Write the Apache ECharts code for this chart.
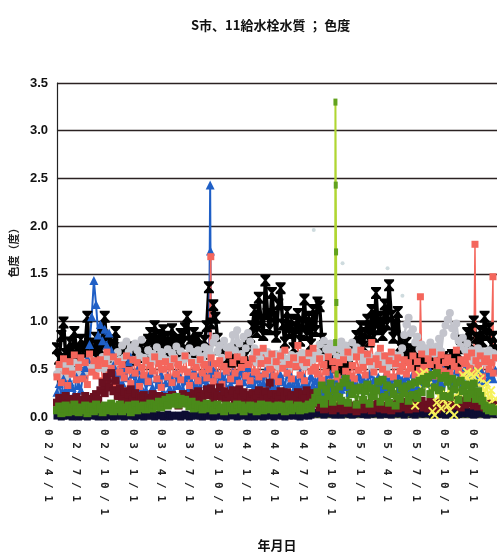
<!DOCTYPE html>
<html>
<head>
<meta charset="utf-8">
<script src="https://cdn.jsdelivr.net/npm/echarts@6/dist/echarts.min.js"></script>
<style>
  html, body { margin: 0; padding: 0; background: #fff; }
  #chart { width: 497px; height: 557px; }
</style>
</head>
<body>
<div id="chart"></div>
<script>
// Colour readings at 11 taps, one reading per week starting 2002-04-01.
const startDate = '2002-04-01';
const stepDays = 7;

// Quarter marks shown on the date axis
const tickDates = ['2002-04-01','2002-07-01','2002-10-01','2003-01-01','2003-04-01','2003-07-01',
  '2003-10-01','2004-01-01','2004-04-01','2004-07-01','2004-10-01','2005-01-01','2005-04-01',
  '2005-07-01','2005-10-01','2006-01-01'];
const tickLabels = ['02/4/1','02/7/1','02/10/1','03/1/1','03/4/1','03/7/1','03/10/1','04/1/1',
  '04/4/1','04/7/1','04/10/1','05/1/1','05/4/1','05/7/1','05/10/1','06/1/1'];
const yTicks = [0, 0.5, 1.0, 1.5, 2.0, 2.5, 3.0, 3.5];

const blackVals = [
  0.72,0.61,0.85,0.99,0.66,0.58,0.78,0.64,0.89,0.70,
  0.57,0.81,0.68,0.74,1.05,0.62,0.77,0.55,0.83,0.66,
  0.71,0.86,1.05,0.69,0.80,0.63,0.76,0.89,0.65,0.72,
  0.64,0.70,0.58,0.68,0.62,0.73,0.60,0.66,0.71,0.63,
  0.67,0.72,0.81,0.88,0.76,0.95,0.80,0.86,0.74,0.91,
  0.78,0.84,0.70,0.92,0.75,0.81,0.69,0.87,0.77,0.93,
  1.05,0.79,0.72,0.88,0.68,0.83,0.74,0.66,0.80,0.95,
  1.36,0.98,1.17,1.04,0.82,0.71,0.64,0.69,0.60,0.66,
  0.58,0.63,0.70,0.61,0.67,0.59,0.72,0.65,0.78,0.84,
  0.95,1.12,0.89,1.25,1.02,0.86,1.43,1.08,0.92,1.30,
  1.05,0.84,1.18,1.35,0.97,0.78,1.10,0.88,1.02,0.72,
  0.93,1.08,0.80,0.98,1.23,0.86,1.05,0.76,1.12,0.90,
  1.20,1.16,0.82,0.68,0.58,0.62,0.54,0.60,0.66,0.52,
  0.57,0.50,0.61,0.55,0.64,0.59,0.72,0.68,0.85,0.76,
  0.95,0.74,0.88,1.02,0.79,1.12,0.84,1.30,0.92,1.05,
  0.86,1.18,0.97,1.38,1.06,0.83,0.95,1.10,0.74,0.81,
  0.66,0.78,0.62,0.71,0.58,0.68,0.55,0.61,0.52,0.58,
  0.54,0.60,0.49,0.57,0.62,0.51,0.59,0.55,0.63,0.58,
  0.60,0.56,0.65,0.61,0.58,0.66,0.72,0.80,0.75,0.88,
  0.78,0.92,1.00,0.83,0.74,0.90,0.79,1.05,0.86,0.93,
  0.76,0.84,0.70];

const grayVals = [
  0.45,0.52,0.41,0.55,0.48,0.43,0.53,0.49,0.57,0.44,
  0.50,0.56,0.46,0.58,0.52,0.48,0.60,0.54,0.57,0.51,
  0.55,0.63,0.50,0.60,0.66,0.53,0.62,0.57,0.68,0.60,
  0.75,0.62,0.79,0.68,0.73,0.60,0.77,0.70,0.64,0.81,
  0.62,0.58,0.70,0.55,0.66,0.60,0.73,0.57,0.68,0.62,
  0.59,0.71,0.55,0.67,0.63,0.74,0.57,0.69,0.60,0.65,
  0.62,0.72,0.58,0.68,0.55,0.70,0.64,0.60,0.73,0.66,
  0.71,0.65,0.78,0.83,0.69,0.75,0.62,0.80,0.73,0.67,
  0.74,0.86,0.70,0.91,0.77,0.66,0.84,0.72,0.88,0.79,
  0.62,0.72,0.57,0.66,0.60,0.70,0.56,0.68,0.55,0.63,
  0.58,0.66,0.53,0.62,0.68,0.56,0.61,0.52,0.65,0.59,
  0.55,0.64,0.58,0.67,0.53,0.61,0.57,0.66,0.60,0.63,
  0.67,0.76,0.62,0.80,0.71,0.65,0.77,0.69,0.74,0.63,
  0.72,0.79,0.66,0.75,0.70,0.62,0.78,0.68,0.73,0.64,
  0.62,0.55,0.66,0.58,0.63,0.52,0.60,0.56,0.65,0.54,
  0.58,0.64,0.52,0.61,0.56,0.66,0.55,0.60,0.65,0.72,
  0.86,0.97,1.04,0.88,0.92,0.78,0.84,0.71,0.76,0.68,
  0.72,0.65,0.78,0.70,0.66,0.74,0.82,0.69,0.88,0.96,
  1.02,1.09,0.93,0.85,0.98,0.80,0.74,0.83,0.70,0.77,
  0.64,0.70,0.58,0.66,0.72,0.61,0.68,0.57,0.63,0.70,
  0.60,0.67,0.62];
// isolated high readings of the grey tap: [day from start, value]
const grayOutliers = [[828,1.96],[921,1.61],[1066,1.56],[1114,1.27]];

const salmonVals = [
  0.42,0.55,0.36,0.61,0.48,0.33,0.58,0.45,0.65,0.39,
  0.52,0.62,0.40,0.57,0.34,0.66,0.47,0.59,0.43,0.54,
  0.60,0.38,0.56,0.68,0.44,0.51,0.63,0.36,0.58,0.47,
  0.55,0.41,0.64,0.49,0.35,0.60,0.46,0.57,0.32,0.52,
  0.44,0.59,0.37,0.54,0.48,0.63,0.40,0.56,0.31,0.50,
  0.58,0.42,0.53,0.36,0.61,0.45,0.55,0.39,0.50,0.64,
  0.47,0.33,0.57,0.43,0.52,0.38,0.60,0.46,0.55,0.41,
  0.50,0.62,0.37,0.56,0.44,0.59,0.34,0.53,0.48,0.65,
  0.40,0.57,0.46,0.63,0.35,0.52,0.60,0.43,0.55,0.38,
  0.61,0.47,0.68,0.42,0.56,0.72,0.45,0.59,0.50,0.66,
  0.43,0.58,0.37,0.64,0.51,0.70,0.46,0.55,0.40,0.62,
  0.53,0.75,0.44,0.60,0.38,0.57,0.67,0.48,0.72,0.52,
  0.45,0.61,0.39,0.55,0.47,0.63,0.36,0.58,0.50,0.42,
  0.57,0.37,0.60,0.48,0.68,0.43,0.54,0.40,0.63,0.49,
  0.70,0.52,0.44,0.66,0.58,0.78,0.47,0.61,0.55,0.72,
  0.50,0.64,0.45,0.59,0.68,0.42,0.56,0.62,0.48,0.53,
  0.60,0.45,0.57,0.51,0.64,0.44,0.58,0.49,0.66,0.52,
  0.47,0.61,0.55,0.68,0.43,0.59,0.52,0.65,0.48,0.57,
  0.62,0.46,0.58,0.53,0.70,0.49,0.60,0.44,0.56,0.63,
  0.51,0.67,0.47,0.59,0.54,0.64,0.42,0.58,0.61,0.50,
  0.57,0.46,0.62];
const salmonSpikes = [[496,1.68],[1172,1.26],[1348,1.81],[1406,1.47]];

const blueVals = [
  0.26,0.35,0.21,0.40,0.29,0.23,0.37,0.31,0.24,0.42,
  0.33,0.28,0.45,0.52,0.61,0.76,1.05,1.43,1.18,0.86,
  0.97,0.80,0.92,0.75,0.88,0.70,0.54,0.44,0.38,0.47,
  0.36,0.52,0.41,0.58,0.63,0.45,0.33,0.49,0.39,0.30,
  0.42,0.28,0.37,0.46,0.31,0.25,0.40,0.34,0.44,0.27,
  0.36,0.43,0.30,0.39,0.26,0.45,0.33,0.41,0.29,0.38,
  0.44,0.31,0.37,0.48,0.34,0.42,0.28,0.39,0.46,0.35,
  0.41,0.33,0.49,0.38,0.45,0.30,0.43,0.36,0.50,0.40,
  0.34,0.47,0.39,0.44,0.31,0.48,0.37,0.42,0.52,0.35,
  0.45,0.32,0.40,0.28,0.43,0.36,0.48,0.30,0.38,0.46,
  0.33,0.41,0.29,0.44,0.37,0.31,0.47,0.35,0.42,0.28,
  0.39,0.34,0.46,0.30,0.41,0.36,0.29,0.43,0.33,0.38,
  0.31,0.42,0.27,0.36,0.40,0.30,0.45,0.34,0.28,0.39,
  0.35,0.29,0.43,0.32,0.38,0.26,0.41,0.36,0.30,0.44,
  0.33,0.40,0.28,0.37,0.45,0.31,0.39,0.34,0.42,0.29,
  0.36,0.43,0.32,0.38,0.27,0.41,0.35,0.44,0.30,0.39,
  0.34,0.42,0.37,0.31,0.45,0.38,0.33,0.47,0.40,0.36,
  0.43,0.35,0.48,0.39,0.32,0.46,0.41,0.36,0.50,0.44,
  0.38,0.47,0.42,0.35,0.49,0.40,0.45,0.37,0.51,0.43,
  0.46,0.39,0.48,0.41,0.36,0.50,0.44,0.38,0.47,0.42,
  0.45,0.40,0.49];
const blueSpikes = [[494,2.43],[495,1.74]];

const maroonVals = [
  0.15,0.20,0.12,0.18,0.22,0.14,0.19,0.11,0.17,0.21,
  0.13,0.18,0.16,0.22,0.12,0.19,0.15,0.21,0.24,0.18,
  0.28,0.36,0.25,0.42,0.31,0.46,0.27,0.38,0.22,0.30,
  0.20,0.27,0.16,0.24,0.29,0.18,0.25,0.15,0.22,0.19,
  0.23,0.14,0.20,0.17,0.24,0.12,0.19,0.22,0.15,0.18,
  0.21,0.13,0.17,0.23,0.16,0.20,0.12,0.19,0.24,0.15,
  0.18,0.22,0.16,0.25,0.19,0.27,0.21,0.17,0.24,0.29,
  0.23,0.30,0.19,0.26,0.22,0.31,0.20,0.27,0.18,0.25,
  0.21,0.28,0.17,0.24,0.29,0.19,0.26,0.15,0.23,0.20,
  0.25,0.18,0.23,0.28,0.16,0.22,0.27,0.19,0.36,0.24,
  0.17,0.24,0.20,0.27,0.14,0.22,0.26,0.18,0.23,0.15,
  0.21,0.26,0.16,0.24,0.19,0.28,0.13,0.22,0.25,0.18,
  0.14,0.10,0.13,0.08,0.12,0.09,0.14,0.07,0.11,0.10,
  0.09,0.13,0.07,0.11,0.14,0.08,0.12,0.10,0.06,0.13,
  0.11,0.08,0.14,0.09,0.12,0.07,0.13,0.10,0.15,0.09,
  0.12,0.08,0.11,0.14,0.07,0.10,0.13,0.09,0.12,0.16,
  0.10,0.13,0.08,0.15,0.11,0.09,0.14,0.12,0.17,0.10,
  0.13,0.09,0.16,0.11,0.14,0.08,0.12,0.15,0.10,0.13,
  0.16,0.11,0.14,0.18,0.12,0.15,0.10,0.17,0.13,0.19,
  0.18,0.14,0.12,0.16,0.11,0.15,0.13,0.10,0.14,0.12,
  0.09,0.13,0.11];

const greenVals = [
  0.07,0.11,0.04,0.09,0.12,0.05,0.10,0.06,0.13,0.08,
  0.05,0.10,0.07,0.12,0.04,0.09,0.11,0.06,0.13,0.08,
  0.10,0.05,0.12,0.07,0.09,0.14,0.06,0.11,0.08,0.13,
  0.06,0.10,0.08,0.12,0.05,0.09,0.13,0.07,0.11,0.09,
  0.12,0.08,0.10,0.14,0.09,0.13,0.11,0.16,0.10,0.15,
  0.18,0.12,0.20,0.14,0.17,0.21,0.13,0.19,0.15,0.18,
  0.14,0.11,0.16,0.09,0.13,0.10,0.12,0.08,0.11,0.14,
  0.09,0.12,0.07,0.11,0.13,0.08,0.10,0.06,0.12,0.09,
  0.11,0.07,0.10,0.13,0.08,0.12,0.06,0.10,0.09,0.12,
  0.08,0.11,0.06,0.10,0.13,0.07,0.09,0.12,0.08,0.11,
  0.07,0.10,0.12,0.08,0.11,0.06,0.09,0.13,0.07,0.10,
  0.09,0.12,0.07,0.11,0.08,0.10,0.13,0.09,0.15,0.20,
  0.26,0.18,0.33,0.14,0.29,0.22,0.35,0.16,0.28,0.21,
  0.32,0.17,0.36,0.40,0.15,0.33,0.24,0.30,0.13,0.28,
  0.31,0.18,0.27,0.34,0.14,0.30,0.22,0.28,0.37,0.16,
  0.39,0.21,0.33,0.15,0.31,0.24,0.12,0.35,0.19,0.30,
  0.25,0.32,0.17,0.34,0.23,0.36,0.20,0.38,0.26,0.40,
  0.35,0.42,0.24,0.44,0.31,0.46,0.28,0.41,0.22,0.43,
  0.37,0.21,0.40,0.29,0.36,0.18,0.38,0.27,0.34,0.20,
  0.33,0.24,0.35,0.19,0.27,0.22,0.17,0.12,0.09,0.07,
  0.10,0.06,0.08];

const navyVals = [
  0.01,0.02,0.00,0.01,0.03,0.01,0.02,0.00,0.01,0.02,
  0.00,0.01,0.02,0.01,0.00,0.03,0.01,0.02,0.01,0.00,
  0.02,0.01,0.00,0.02,0.01,0.03,0.00,0.01,0.02,0.01,
  0.01,0.00,0.02,0.01,0.03,0.01,0.00,0.02,0.01,0.02,
  0.00,0.02,0.01,0.01,0.02,0.00,0.03,0.01,0.02,0.00,
  0.01,0.03,0.00,0.02,0.01,0.01,0.02,0.00,0.01,0.03,
  0.02,0.00,0.01,0.02,0.01,0.03,0.01,0.00,0.02,0.01,
  0.01,0.02,0.00,0.01,0.03,0.01,0.02,0.01,0.00,0.02,
  0.03,0.01,0.02,0.00,0.01,0.02,0.01,0.03,0.00,0.01,
  0.01,0.00,0.02,0.01,0.02,0.00,0.01,0.03,0.01,0.02,
  0.00,0.02,0.01,0.03,0.01,0.00,0.02,0.01,0.02,0.01,
  0.02,0.01,0.00,0.02,0.01,0.03,0.01,0.02,0.03,0.04,
  0.05,0.03,0.06,0.02,0.04,0.07,0.03,0.05,0.02,0.06,
  0.04,0.02,0.05,0.07,0.03,0.05,0.02,0.06,0.04,0.03,
  0.06,0.03,0.04,0.02,0.05,0.07,0.03,0.04,0.06,0.02,
  0.04,0.06,0.03,0.05,0.02,0.04,0.07,0.03,0.05,0.04,
  0.02,0.05,0.04,0.06,0.03,0.02,0.05,0.07,0.03,0.04,
  0.06,0.03,0.05,0.02,0.04,0.06,0.03,0.05,0.04,0.02,
  0.05,0.03,0.06,0.04,0.02,0.05,0.07,0.03,0.04,0.06,
  0.03,0.05,0.02,0.04,0.06,0.03,0.05,0.04,0.02,0.05,
  0.04,0.03,0.06];

const limeVals = [
  0.01,0.00,0.01,0.01,0.00,0.02,0.01,0.00,0.01,0.01,
  0.00,0.01,0.01,0.02,0.00,0.01,0.00,0.01,0.01,0.00,
  0.01,0.01,0.00,0.01,0.02,0.00,0.01,0.01,0.00,0.01,
  0.00,0.01,0.02,0.00,0.01,0.01,0.00,0.01,0.00,0.01,
  0.01,0.00,0.01,0.01,0.00,0.02,0.01,0.00,0.01,0.00,
  0.01,0.01,0.00,0.01,0.00,0.01,0.02,0.00,0.01,0.01,
  0.00,0.01,0.01,0.00,0.01,0.00,0.01,0.01,0.02,0.00,
  0.01,0.00,0.01,0.01,0.00,0.01,0.01,0.00,0.01,0.02,
  0.00,0.01,0.01,0.00,0.01,0.00,0.02,0.01,0.00,0.01,
  0.01,0.00,0.01,0.02,0.00,0.01,0.01,0.00,0.01,0.00,
  0.01,0.01,0.00,0.01,0.01,0.00,0.02,0.01,0.00,0.01,
  0.00,0.01,0.01,0.00,0.01,0.02,0.00,0.01,0.01,0.00,
  0.01,0.00,0.01,0.01,0.02,0.00,0.01,0.00,0.01,0.01,
  0.00,0.01,0.01,0.00,0.02,0.01,0.00,0.01,0.01,0.00,
  0.01,0.02,0.00,0.01,0.00,0.01,0.01,0.00,0.01,0.01,
  0.00,0.01,0.02,0.00,0.01,0.01,0.00,0.01,0.00,0.01,
  0.01,0.00,0.01,0.01,0.00,0.02,0.01,0.00,0.01,0.01,
  0.00,0.01,0.00,0.01,0.02,0.00,0.01,0.01,0.00,0.01,
  0.01,0.00,0.01,0.00,0.01,0.01,0.02,0.00,0.01,0.00,
  0.01,0.01,0.00,0.02,0.01,0.00,0.01,0.01,0.00,0.01,
  0.00,0.01,0.01];
// sharp event in September 2004
const limeSpikes = [[897,0.78],[898,3.30],[899,2.43],[900,1.73],[901,1.20],[902,0.45]];

// the yellow tap starts reporting later
const yellowFromWeek = 165;
const yellowVals = [
  0.12,0.35,0.44,0.38,0.47,
  0.41,0.33,0.45,0.06,0.02,0.15,0.22,0.09,0.18,0.24,
  0.12,0.07,0.20,0.02,0.14,0.25,0.38,0.44,0.41,0.47,
  0.39,0.45,0.42,0.36,0.48,0.40,0.31,0.22,0.35,0.14,
  0.28,0.09,0.19];

// ---- helpers ----
const DAY = 86400000;
function parseDay(s) {
  const p = s.split('-').map(Number);
  return Date.UTC(p[0], p[1] - 1, p[2]);
}
const t0 = parseDay(startDate);
const tickDays = tickDates.map(d => Math.round((parseDay(d) - t0) / DAY));
const axisMaxDay = 1419;

function build(vals, spikes, firstWeek) {
  const off = firstWeek || 0;
  const pts = vals.map((v, i) => [(i + off) * stepDays, v]);
  (spikes || []).forEach(p => pts.push(p));
  pts.sort((a, b) => a[0] - b[0]);
  return pts;
}

const hourglass = 'path://M0,0L10,0L10,1.5L6,5L10,8.5L10,10L0,10L0,8.5L4,5L0,1.5Z';
const crossMark = 'path://M0,1.5L1.5,0L5,3.5L8.5,0L10,1.5L6.5,5L10,8.5L8.5,10L5,6.5L1.5,10L0,8.5L3.5,5Z';

function lineSeries(name, data, color, symbol, size, width, extra) {
  return Object.assign({
    name: name, type: 'line', data: data,
    symbol: symbol, symbolSize: size, showSymbol: true, showAllSymbol: true,
    itemStyle: { color: color },
    lineStyle: { color: color, width: width },
    emphasis: { disabled: true }, silent: true, animation: false
  }, extra || {});
}

const chart = echarts.init(document.getElementById('chart'), null, { renderer: 'canvas' });

chart.setOption({
  backgroundColor: '#ffffff',
  animation: false,
  title: {
    text: 'S市、11給水栓水質 ； 色度',
    left: 186, top: 14,
    textStyle: { fontFamily: 'Noto Sans CJK JP', fontWeight: 'bold', fontSize: 13, color: '#111' }
  },
  grid: { left: 55, right: 0, top: 83, bottom: 140, containLabel: false },
  xAxis: {
    type: 'value', min: 0, max: axisMaxDay,
    name: '年月日', nameLocation: 'middle', nameGap: 122,
    nameTextStyle: { fontFamily: 'Noto Sans CJK JP', fontWeight: 'bold', fontSize: 13, color: '#111' },
    axisLine: { show: true, onZero: false, lineStyle: { color: '#222', width: 1 } },
    axisTick: { show: false },
    splitLine: { show: false },
    axisLabel: {
      customValues: tickDays,
      rotate: -90, margin: 12,
      align: 'left', verticalAlign: 'top', padding: [4, 0, 0, 0],
      fontFamily: 'DejaVu Sans Mono', fontWeight: 'bold', fontSize: 11, color: '#222',
      formatter: function (v) {
        const i = tickDays.indexOf(Math.round(v));
        return i < 0 ? '' : tickLabels[i].split('').join(' ');
      }
    }
  },
  yAxis: {
    type: 'value', min: yTicks[0], max: yTicks[yTicks.length - 1], interval: 0.5,
    name: '色度（度）', nameLocation: 'middle', nameGap: 34, nameRotate: 90,
    nameTextStyle: { fontFamily: 'Noto Sans CJK JP', fontWeight: 'bold', fontSize: 11, color: '#222' },
    axisLine: { show: true, lineStyle: { color: '#222', width: 1.2 } },
    axisTick: { show: false },
    splitLine: { show: true, lineStyle: { color: '#2b2222', width: 1.3 } },
    axisLabel: {
      margin: 9, fontFamily: 'Liberation Sans', fontWeight: 'bold', fontSize: 13, color: '#111',
      formatter: v => v.toFixed(1)
    }
  },
  series: [
    lineSeries('navy', build(navyVals), '#0d0d33', 'rect', 7, 2.5),
    lineSeries('black', build(blackVals), '#000000', hourglass, [10, 12], 3.5),
    lineSeries('gray', build(grayVals), '#c3c4cc', 'circle', 8, 2.5),
    { name: 'grayHigh', type: 'scatter', data: grayOutliers, symbol: 'circle', symbolSize: 4,
      itemStyle: { color: '#c2d2d6' }, silent: true, animation: false },
    lineSeries('blue', build(blueVals, blueSpikes), '#1f5fc6', 'triangle', 9, 2),
    lineSeries('salmon', build(salmonVals, salmonSpikes), '#f4665c', 'rect', 7, 1.5),
    lineSeries('maroon', build(maroonVals), '#6b1020', 'rect', 8, 2.5),
    lineSeries('yellow', build(yellowVals, null, yellowFromWeek), '#f6f25a', crossMark, 9, 2),
    lineSeries('green', build(greenVals), '#4a8a1a', 'rect', 8, 2.5),
    lineSeries('lime', build(limeVals, limeSpikes), '#b0d632', 'rect',
      function (v) { return v[1] > 0.3 ? [4, 7] : 0; }, 2,
      { itemStyle: { color: '#62a21e' }, clip: false })
  ]
});
</script>
</body>
</html>
